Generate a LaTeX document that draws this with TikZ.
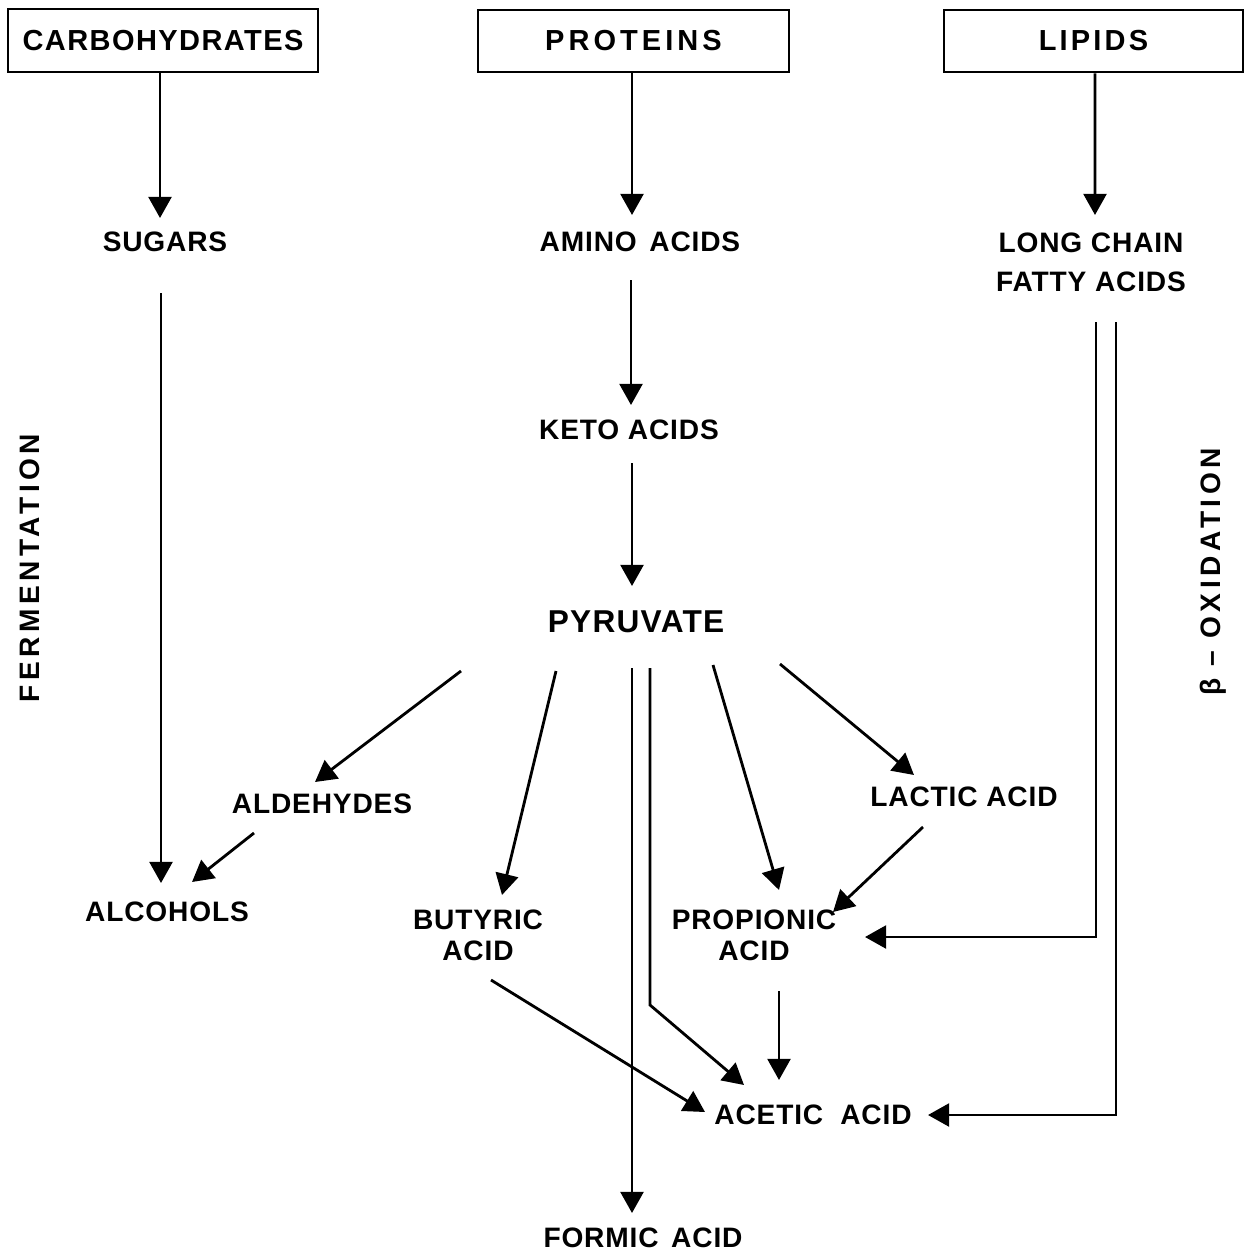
\documentclass[tikz,border=0pt]{standalone}
\usepackage{fontspec}
\setmainfont{Liberation Sans}
\usetikzlibrary{arrows.meta}
\newcommand{\lsp}[1]{\addfontfeature{LetterSpace=#1}}
\begin{document}
\begin{tikzpicture}[x=0.02cm,y=-0.02cm,
  lbl/.style={font=\bfseries\fontsize{16}{17.6}\selectfont\lsp{3}, inner sep=0pt, align=center},
  srcbox/.style={draw, line width=1.2pt, inner sep=0pt, minimum height=1.25cm,
                 font=\bfseries\fontsize{16.5}{20}\selectfont},
  arr/.style={line width=1.6pt, -{Triangle[length=12pt,width=13pt]}},
  side/.style={font=\bfseries\fontsize{16}{20}\selectfont\lsp{16}, inner sep=0pt, rotate=90}
]
\useasboundingbox (0,0) rectangle (1245,1252);

% source boxes
\node[srcbox, minimum width=6.2cm]  (carb) at (163,40.5)  {\lsp{5}CARBOHYDRATES};
\node[srcbox, minimum width=6.22cm] (prot) at (633.5,41)  {\lsp{14}PROTEINS};
\node[srcbox, minimum width=5.98cm] (lip)  at (1093.5,41) {\lsp{11}LIPIDS};

% intermediate and end products
\node[lbl] (sug)   at (165,242)  {SUGARS};
\node[lbl] (amino) at (640,242)  {AMINO\hspace{0.45em}ACIDS};
\node[lbl, font=\bfseries\fontsize{16}{22}\selectfont\lsp{3}] (lcfa) at (1091,262) {LONG CHAIN\\FATTY ACIDS};
\node[lbl] (keto)  at (629,430)  {KETO ACIDS};
\node[lbl, font=\bfseries\fontsize{18}{22}\selectfont\lsp{4}] (pyr) at (636,622) {PYRUVATE};
\node[lbl] (ald)   at (322,804)  {ALDEHYDES};
\node[lbl] (alc)   at (167,912)  {ALCOHOLS};
\node[lbl] (but)   at (478,935)  {BUTYRIC\\ACID};
\node[lbl] (prop)  at (754,935)  {PROPIONIC\\ACID};
\node[lbl] (lac)   at (964,797)  {LACTIC ACID};
\node[lbl] (ace)   at (813,1115) {ACETIC\hspace{0.3em} ACID};
\node[lbl] (form)  at (643,1238) {FORMIC\hspace{0.45em}ACID};

% process labels
\node[side] (ferm) at (30,568)   {FERMENTATION};
\node[side] (beta) at (1213,572) {β – OXIDATION};

% hydrolysis
\draw[arr] ([shift={(-3,0)}]carb.south)   -- ([shift={(-5,-24)}]sug.center);
\draw[arr] ([shift={(-1.5,0)}]prot.south) -- ([shift={(-8,-27)}]amino.center);
\draw[arr] ([shift={(1.5,0)}]lip.south)   -- ([shift={(4,-47)}]lcfa.center);

% carbohydrate branch
\draw[arr] ([shift={(-4,51)}]sug.center)  -- ([shift={(-6,-29)}]alc.center);
\draw[arr] ([shift={(-68,29)}]ald.center) -- ([shift={(25,-30)}]alc.center);

% protein branch
\draw[arr] ([shift={(-9,38)}]amino.center) -- ([shift={(2,-25)}]keto.center);
\draw[arr] ([shift={(3,33)}]keto.center)   -- ([shift={(-4,-36)}]pyr.center);

% pyruvate products
\draw[arr] ([shift={(-175,49)}]pyr.center) -- ([shift={(-7,-22)}]ald.center);
\draw[arr] ([shift={(-80,49)}]pyr.center)  -- ([shift={(24,-40)}]but.center);
\draw[arr] ([shift={(-4,46)}]pyr.center)   -- ([shift={(-11,-25)}]form.center);
\draw[arr] ([shift={(14,46)}]pyr.center) -- ([shift={(14,383)}]pyr.center)
           -- ([shift={(-69,-30)}]ace.center);
\draw[arr] ([shift={(77,43)}]pyr.center)   -- ([shift={(25,-45)}]prop.center);
\draw[arr] ([shift={(144,42)}]pyr.center)  -- ([shift={(-50,-22)}]lac.center);
\draw[arr] ([shift={(-41,30)}]lac.center)  -- ([shift={(79,-23)}]prop.center);

% beta-oxidation of fatty acids
\draw[arr] ([shift={(5,60)}]lcfa.center)  |- ([shift={(111,2)}]prop.center);
\draw[arr] ([shift={(25,60)}]lcfa.center) |- ([shift={(115,0)}]ace.center);

% to acetic acid
\draw[arr] ([shift={(13,45)}]but.center)  -- ([shift={(-108,-3)}]ace.center);
\draw[arr] ([shift={(25,56)}]prop.center) -- ([shift={(-34,-35)}]ace.center);
\end{tikzpicture}
\end{document}
